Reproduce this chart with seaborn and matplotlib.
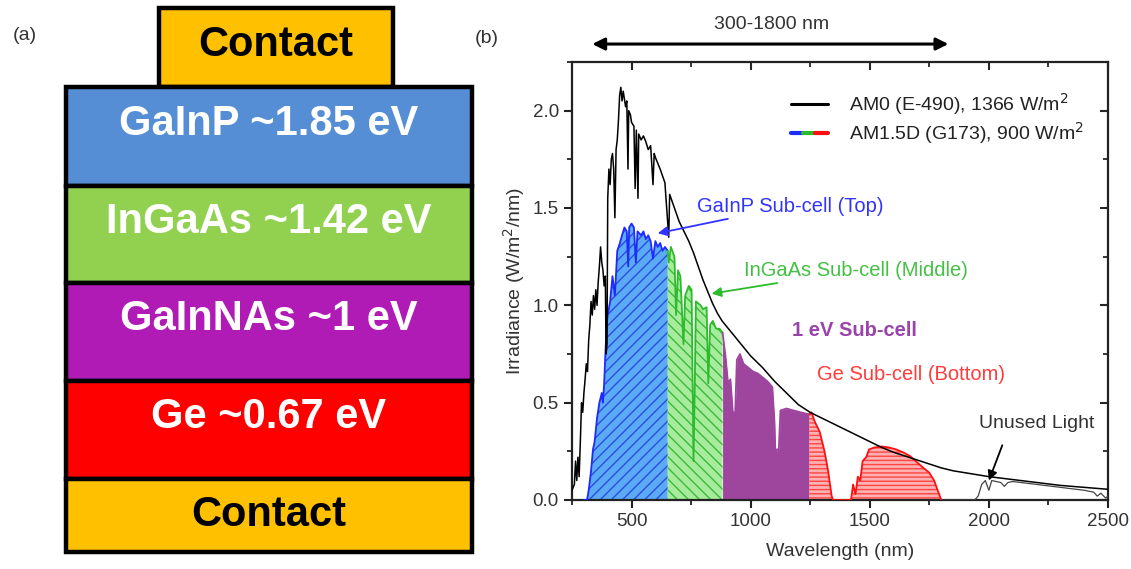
import numpy as np
import matplotlib
matplotlib.use("Agg")
import matplotlib.pyplot as plt
import seaborn as sns
from matplotlib.lines import Line2D
from matplotlib.legend_handler import HandlerTuple
from matplotlib.ticker import MultipleLocator

# ---------------- data ----------------
layer_materials = ["Contact", "GaInP", "InGaAs", "GaInNAs", "Ge", "Contact"]
layer_gaps = [None, "1.85", "1.42", "1", "0.67", None]

am0_wl = [250, 260, 265, 270, 275, 280, 285, 290, 295, 300, 305, 310, 315, 320, 325,
          330, 335, 340, 345, 350, 355, 360, 365, 370, 375, 380, 385, 390, 393, 397,
          400, 405, 410, 415, 420, 425, 430, 435, 440, 445, 450, 455, 460, 465, 470,
          475, 480, 485, 488, 495, 500, 510, 515, 520, 527, 530, 540, 550, 560, 570,
          580, 590, 595, 600, 620, 640, 656, 660, 680, 700, 720, 740, 760, 780, 800,
          820, 840, 860, 880, 900, 920, 940, 960, 980, 1000, 1050, 1100, 1150, 1200,
          1250, 1300, 1350, 1400, 1450, 1500, 1550, 1600, 1650, 1700, 1750, 1800,
          1850, 1900, 1950, 2000, 2100, 2200, 2300, 2400, 2500]
am0_irr = [0.05, 0.08, 0.20, 0.10, 0.22, 0.12, 0.30, 0.50, 0.45, 0.55, 0.62, 0.70, 0.66,
           0.82, 0.90, 1.02, 0.95, 1.05, 0.98, 1.08, 1.00, 1.12, 1.20, 1.30, 1.22, 1.18,
           1.10, 1.15, 0.75, 0.80, 1.55, 1.70, 1.62, 1.75, 1.78, 1.70, 1.45, 1.80, 1.85,
           1.95, 2.08, 2.12, 2.05, 2.10, 2.06, 2.02, 2.05, 1.70, 2.00, 1.98, 1.94, 1.92,
           1.60, 1.90, 1.55, 1.88, 1.85, 1.87, 1.84, 1.80, 1.82, 1.62, 1.78, 1.76, 1.70,
           1.63, 1.35, 1.57, 1.50, 1.43, 1.38, 1.33, 1.27, 1.20, 1.13, 1.07, 1.01, 0.96,
           0.92, 0.89, 0.86, 0.83, 0.80, 0.77, 0.74, 0.68, 0.61, 0.55, 0.49, 0.45, 0.42,
           0.39, 0.36, 0.33, 0.30, 0.27, 0.245, 0.225, 0.205, 0.185, 0.165, 0.15, 0.14,
           0.13, 0.12, 0.105, 0.09, 0.075, 0.065, 0.055]

am15_wl = [300, 313, 320, 330, 338, 345, 355, 365, 375, 380, 385, 390, 396, 400, 410,
           420, 430, 440, 451, 460, 470, 480, 486, 490, 500, 510, 518, 525, 540, 550,
           560, 570, 580, 590, 600, 610, 620, 630, 640, 652, 656, 665, 680, 687, 695,
           705, 718, 725, 740, 752, 760, 765, 770, 790, 800, 815, 822, 830, 841, 855,
           869, 882, 895, 905, 915, 925, 935, 942, 955, 970, 990, 1010, 1030, 1050,
           1070, 1091, 1100, 1105, 1110, 1118, 1125, 1150, 1180, 1210, 1246, 1255,
           1270, 1290, 1310, 1325, 1340, 1346, 1400, 1421, 1430, 1440, 1450, 1460,
           1470, 1485, 1497, 1520, 1550, 1580, 1610, 1640, 1670, 1693, 1720, 1750,
           1770, 1785, 1800, 1940, 1955, 1970, 1985, 2000, 2012, 2030, 2050, 2065,
           2080, 2100, 2200, 2300, 2400, 2440, 2455, 2470, 2490, 2500]
am15_irr = [0.0, 0.0, 0.05, 0.15, 0.26, 0.30, 0.42, 0.50, 0.55, 0.50, 0.60, 0.75, 0.91,
            0.95, 1.02, 1.15, 1.05, 1.28, 1.32, 1.36, 1.40, 1.38, 1.20, 1.40, 1.42, 1.40,
            1.22, 1.38, 1.36, 1.38, 1.34, 1.36, 1.33, 1.24, 1.33, 1.30, 1.32, 1.28, 1.30,
            1.28, 1.22, 1.30, 1.25, 0.95, 1.18, 1.15, 0.80, 1.05, 1.10, 1.08, 0.20, 0.55,
            1.02, 1.00, 0.98, 0.99, 0.60, 0.90, 0.92, 0.88, 0.88, 0.86, 0.73, 0.60, 0.62,
            0.45, 0.45, 0.72, 0.75, 0.70, 0.68, 0.66, 0.65, 0.63, 0.61, 0.58, 0.40, 0.19,
            0.26, 0.26, 0.46, 0.47, 0.46, 0.45, 0.44, 0.45, 0.40, 0.35, 0.25, 0.15, 0.02,
            0.0, 0.0, 0.0, 0.08, 0.03, 0.12, 0.10, 0.20, 0.22, 0.26, 0.27, 0.275, 0.27,
            0.26, 0.245, 0.225, 0.20, 0.17, 0.14, 0.10, 0.05, 0.0, 0.0, 0.02, 0.08, 0.10,
            0.05, 0.10, 0.095, 0.09, 0.07, 0.09, 0.095, 0.08, 0.065, 0.05, 0.04, 0.02,
            0.035, 0.01, 0.02]

subcell_names = ["GaInP Sub-cell (Top)", "InGaAs Sub-cell (Middle)",
                 "1 eV Sub-cell", "Ge Sub-cell (Bottom)"]
subcell_edges = [300, 652, 882, 1246, 1800]
legend_labels = ["AM0 (E-490), 1366 W/m$^2$", "AM1.5D (G173), 900 W/m$^2$"]
span_label = "300-1800 nm"

# ---------------- style ----------------
sns.set_theme(style="ticks")
plt.rcParams["font.family"] = ["Liberation Sans", "DejaVu Sans"]
plt.rcParams["hatch.linewidth"] = 1.0

W, H = 1131, 569
fig = plt.figure(figsize=(W / 100, H / 100), dpi=100)

# ---------------- panel (a): layer stack ----------------
axa = fig.add_axes([0, 0, 1, 1])
axa.set_xlim(0, W)
axa.set_ylim(H, 0)
axa.axis("off")

layer_colors = ["#FFC000", "#558ED5", "#92D050", "#B01AB5", "#FF0000", "#FFC000"]
layer_bounds = [8, 87, 186, 283, 381, 479, 552]
stack_x = (66, 472)
top_x = (159, 393)
text_offsets = [-3, -13, -13, -13, -13, 0]

for i, (mat, gap) in enumerate(zip(layer_materials, layer_gaps)):
    x0, x1 = top_x if i == 0 else stack_x
    y0, y1 = layer_bounds[i], layer_bounds[i + 1]
    axa.bar((x0 + x1) / 2, y1 - y0, bottom=y0, width=x1 - x0,
            color=layer_colors[i], edgecolor="black", linewidth=3.2, zorder=2 if i else 1)
    label = mat if gap is None else f"{mat} ~{gap} eV"
    tcol = "black" if gap is None else "white"
    axa.text((x0 + x1) / 2, (y0 + y1) / 2 + text_offsets[i], label, ha="center",
             va="center", fontsize=30, fontweight="bold", color=tcol, zorder=3)

axa.text(25, 35, "(a)", fontsize=14, color="#333333", ha="center", va="center")
axa.text(487, 38, "(b)", fontsize=14, color="#333333", ha="center", va="center")

# ---------------- panel (b): spectra ----------------
ax = fig.add_axes([572 / W, 69 / H, 536 / W, 438 / H])
ax.set_facecolor("white")

wl15 = np.array(am15_wl, dtype=float)
ir15 = np.array(am15_irr, dtype=float)

fill_styles = [
    dict(face="#5AAAF5", hatch_col="#2B4EE0", hatch="///", line="#1E2BFF"),
    dict(face="#A6EC9C", hatch_col="#3DB83D", hatch="\\\\\\", line="#2DBB2D"),
    dict(face="#9E469E", hatch_col="#9E469E", hatch=None, line="#9E469E"),
    dict(face="#FFB0B0", hatch_col="#FF4545", hatch="----", line="#FF1010"),
]
for k in range(4):
    a, b = subcell_edges[k], subcell_edges[k + 1]
    m = (wl15 >= a) & (wl15 <= b)
    st = fill_styles[k]
    ax.fill_between(wl15[m], 0, ir15[m], facecolor=st["face"], edgecolor=st["hatch_col"],
                    hatch=st["hatch"], linewidth=0, zorder=2)
    sns.lineplot(x=wl15[m], y=ir15[m], ax=ax, color=st["line"], lw=1.3,
                 estimator=None, sort=False, zorder=3)

m = wl15 >= subcell_edges[-1]
sns.lineplot(x=wl15[m], y=ir15[m], ax=ax, color="#444444", lw=0.9,
             estimator=None, sort=False, zorder=3)

sns.lineplot(x=am0_wl, y=am0_irr, ax=ax, color="black", lw=1.1,
             estimator=None, sort=False, zorder=4)

ax.set_xlim(250, 2500)
ax.set_ylim(0, 2.25)
ax.xaxis.set_major_locator(MultipleLocator(500))
ax.xaxis.set_minor_locator(MultipleLocator(250))
ax.yaxis.set_major_locator(MultipleLocator(0.5))
ax.yaxis.set_minor_locator(MultipleLocator(0.25))
ax.yaxis.set_major_formatter(matplotlib.ticker.FormatStrFormatter("%.1f"))
ax.tick_params(which="major", direction="out", length=6, width=1.5,
               labelsize=13.5, labelcolor="#333333", color="#222222")
ax.tick_params(which="minor", direction="out", length=3.5, width=1.3, color="#222222")
for s in ax.spines.values():
    s.set_linewidth(1.6)
    s.set_color("#222222")
    s.set_visible(True)

sec_top = ax.secondary_xaxis("top")
sec_top.xaxis.set_major_locator(MultipleLocator(500))
sec_top.xaxis.set_minor_locator(MultipleLocator(250))
sec_top.tick_params(which="major", direction="in", length=6, width=1.5, labeltop=False)
sec_top.tick_params(which="minor", direction="in", length=3.5, width=1.3)
sec_right = ax.secondary_yaxis("right")
sec_right.yaxis.set_major_locator(MultipleLocator(0.5))
sec_right.yaxis.set_minor_locator(MultipleLocator(0.25))
sec_right.tick_params(which="major", direction="in", length=6, width=1.5, labelright=False)
sec_right.tick_params(which="minor", direction="in", length=3.5, width=1.3)

ax.set_xlabel("Wavelength (nm)", fontsize=14, color="#333333", labelpad=9)
ax.set_ylabel("Irradiance (W/m$^2$/nm)", fontsize=14, color="#333333", labelpad=4)

# annotations
ax.annotate(subcell_names[0], xy=(610, 1.37), xytext=(773, 1.51), color="#3333FF",
            fontsize=14.5, va="center", ha="left",
            arrowprops=dict(arrowstyle="-|>", color="#3333FF", lw=1.3, mutation_scale=14,
                            shrinkA=0, shrinkB=0), zorder=6)
ax.annotate(subcell_names[1], xy=(836, 1.06), xytext=(974, 1.18), color="#44C044",
            fontsize=14.5, va="center", ha="left",
            arrowprops=dict(arrowstyle="-|>", color="#2DBB2D", lw=1.3, mutation_scale=14,
                            shrinkA=0, shrinkB=0), zorder=6)
ax.text(1175, 0.87, subcell_names[2], color="#9944AA", fontsize=14.5,
        fontweight="bold", va="center", ha="left", zorder=6)
ax.text(1279, 0.646, subcell_names[3], color="#FF3B3B", fontsize=14.5,
        va="center", ha="left", zorder=6)
ax.annotate("Unused Light", xy=(2000, 0.10), xytext=(1957, 0.395), color="#333333",
            fontsize=14, va="center", ha="left",
            arrowprops=dict(arrowstyle="-|>", color="black", lw=1.3, mutation_scale=14,
                            shrinkA=8, shrinkB=0, relpos=(0.25, 0)), zorder=6)

# span arrow above axes
ax.annotate("", xy=(1830, 1.041), xytext=(335, 1.041),
            xycoords=("data", "axes fraction"), textcoords=("data", "axes fraction"),
            arrowprops=dict(arrowstyle="<|-|>", color="black", lw=2.2,
                            mutation_scale=18, shrinkA=0, shrinkB=0),
            annotation_clip=False)
ax.text(1087, 1.085, span_label, transform=ax.get_xaxis_transform(), ha="center",
        va="center", fontsize=14, color="#333333", clip_on=False)

# legend
h0 = Line2D([], [], color="black", lw=2.2)
hb = Line2D([], [], color="#1E2BFF", lw=3)
hg = Line2D([], [], color="#2DBB2D", lw=3)
hr = Line2D([], [], color="#FF1010", lw=3)
ax.legend([h0, (hb, hg, hr)], legend_labels,
          handler_map={tuple: HandlerTuple(ndivide=None, pad=0)},
          loc="upper left", bbox_to_anchor=(0.39, 0.955), frameon=False,
          fontsize=14, handlelength=1.9, handletextpad=1.1, labelspacing=0.15,
          borderpad=0, labelcolor="#222222")

fig.savefig("out.png", dpi=100)
